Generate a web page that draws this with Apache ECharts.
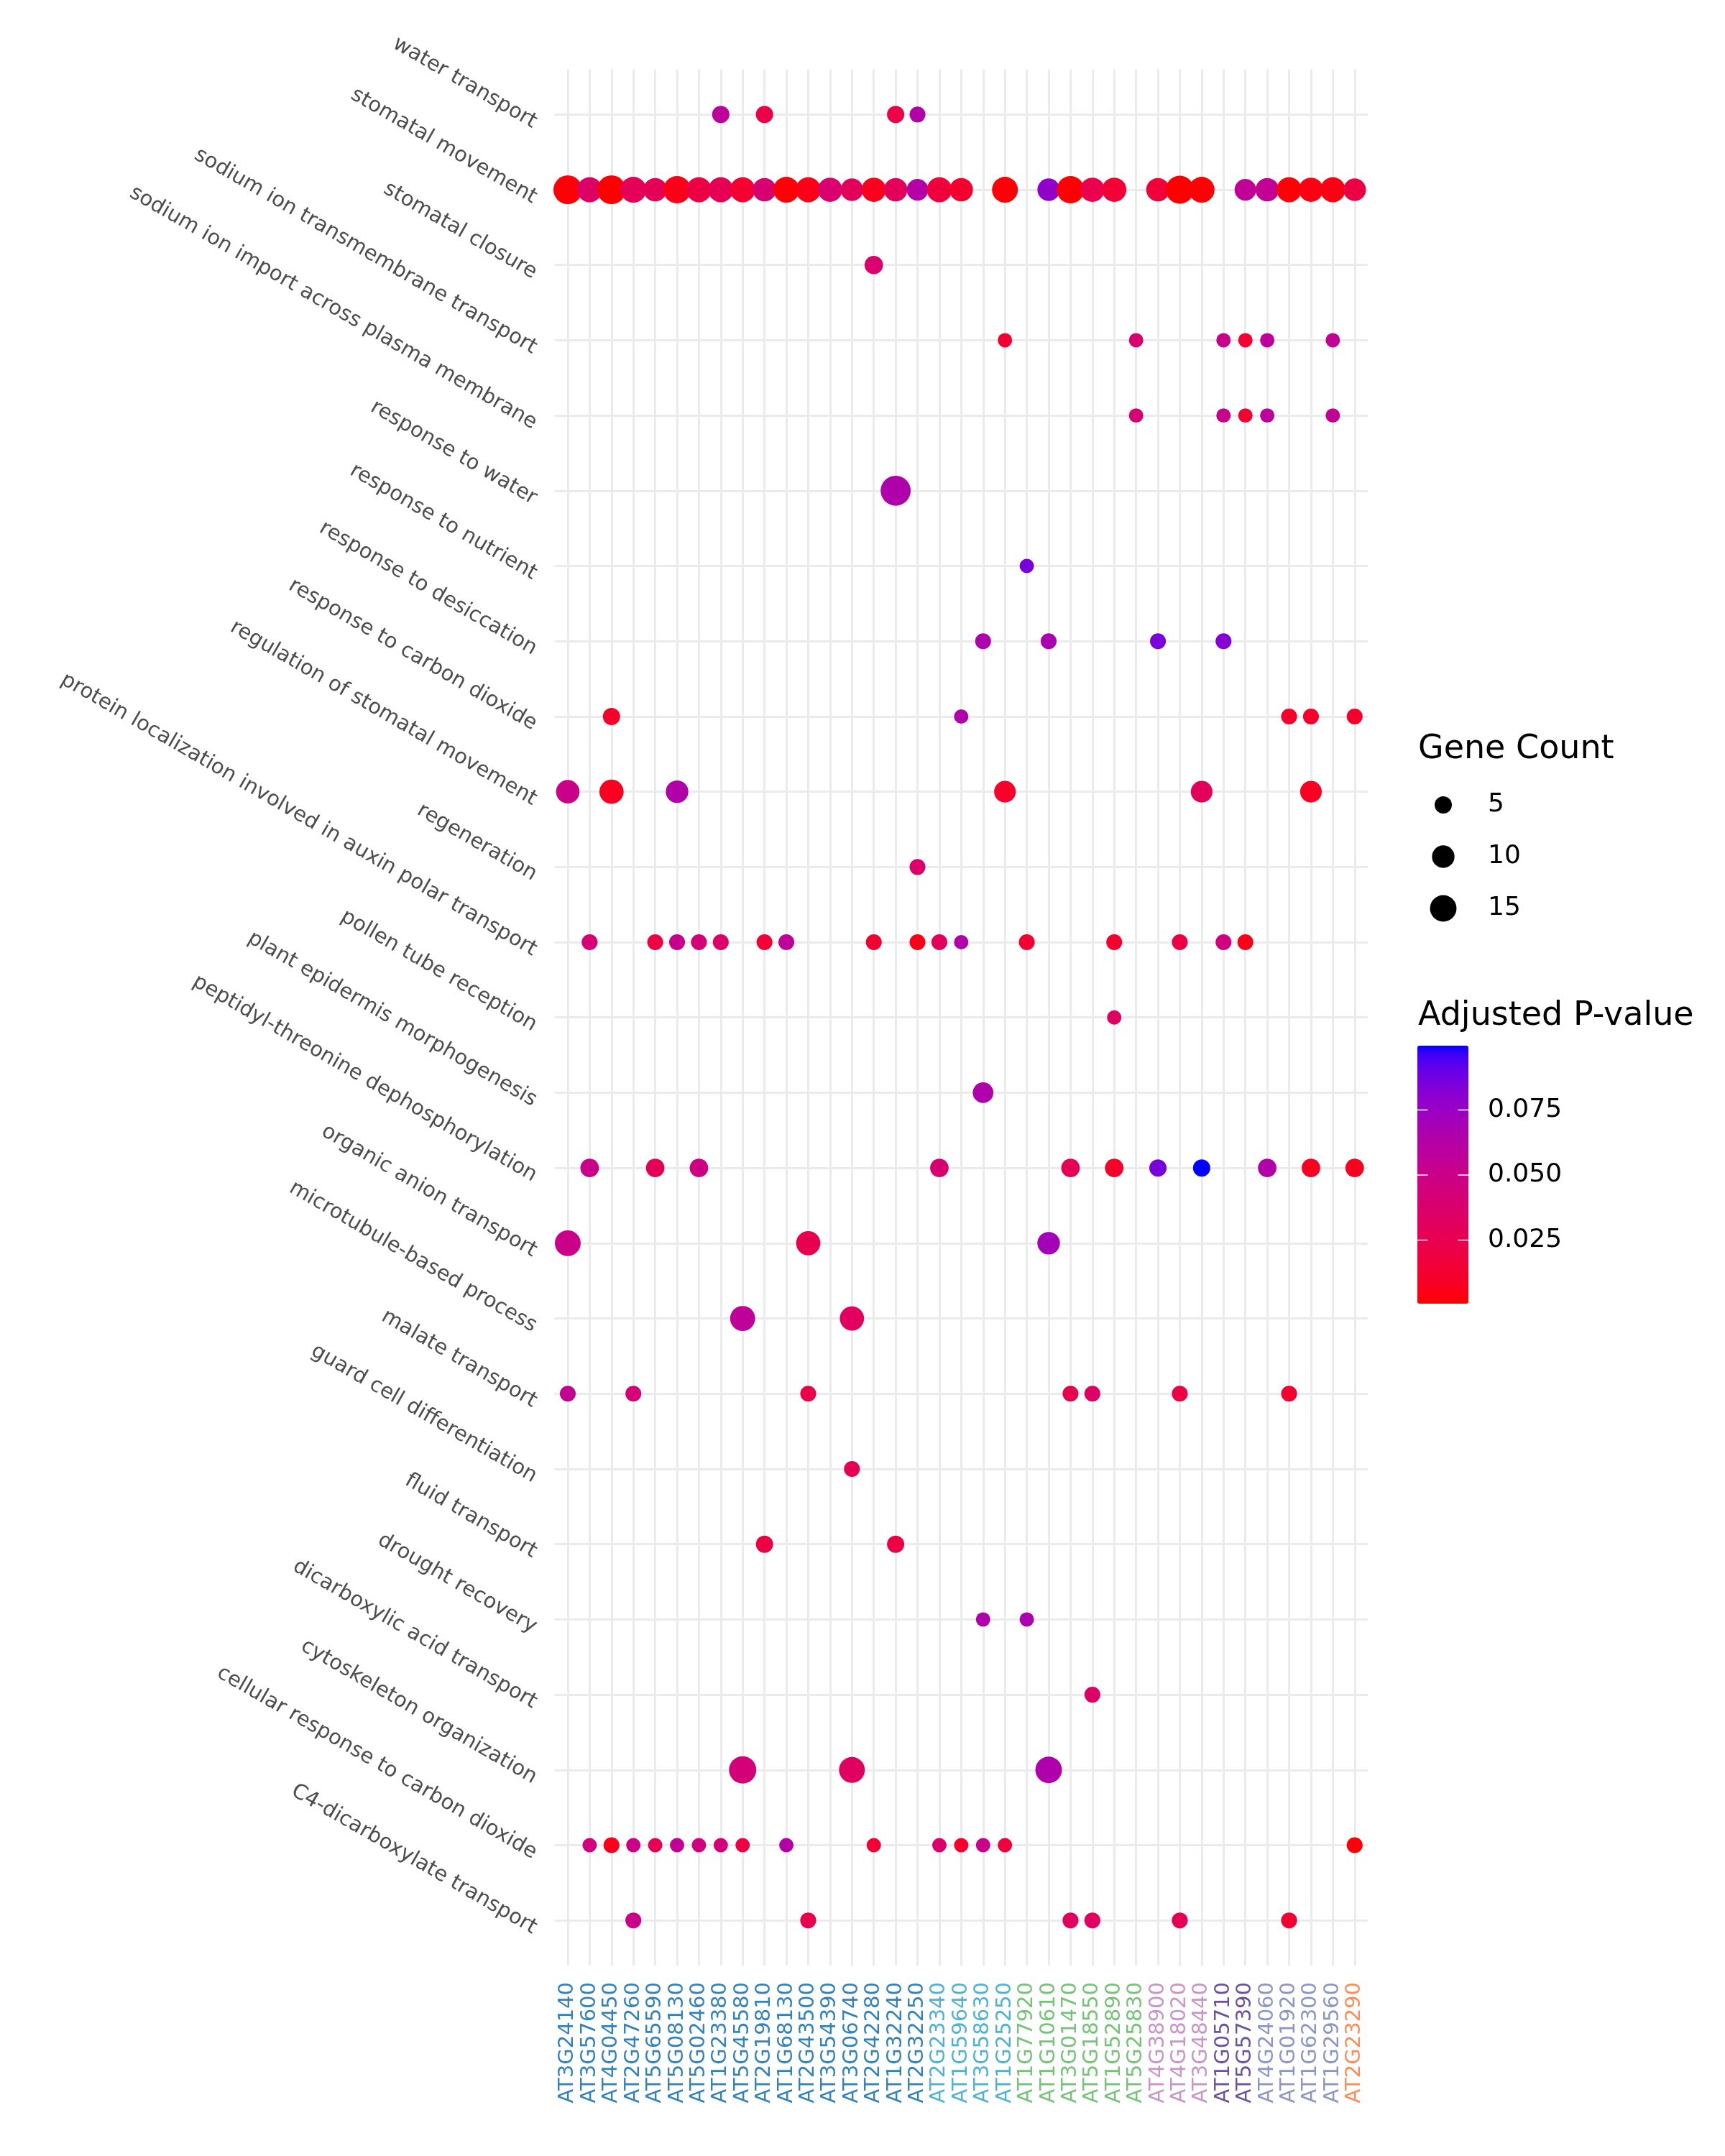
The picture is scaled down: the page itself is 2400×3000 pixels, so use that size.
<!DOCTYPE html>
<html>
<head>
<meta charset="utf-8">
<script src="https://cdn.jsdelivr.net/npm/echarts@6/dist/echarts.min.js"></script>
<style>html,body{margin:0;padding:0;background:#fff}#chart{width:2400px;height:3000px}</style>
</head>
<body>
<div id="chart"></div>
<script>
// ---------------- data ----------------
const genes = ['AT3G24140','AT3G57600','AT4G04450','AT2G47260','AT5G65590','AT5G08130','AT5G02460','AT1G23380','AT5G45580','AT2G19810','AT1G68130','AT2G43500','AT3G54390','AT3G06740','AT2G42280','AT1G32240','AT2G32250','AT2G23340','AT1G59640','AT3G58630','AT1G25250','AT1G77920','AT1G10610','AT3G01470','AT5G18550','AT1G52890','AT5G25830','AT4G38900','AT4G18020','AT3G48440','AT1G05710','AT5G57390','AT4G24060','AT1G01920','AT1G62300','AT1G29560','AT2G23290'];
const geneGroupSizes = [17, 4, 6, 3, 2, 4, 1];
const groupColors = ['#3182BD', '#4EB3D3', '#74C476', '#C994C7', '#6A51A3', '#8C96C6', '#FC8D59'];
const terms = ['water transport','stomatal movement','stomatal closure','sodium ion transmembrane transport','sodium ion import across plasma membrane','response to water','response to nutrient','response to desiccation','response to carbon dioxide','regulation of stomatal movement','regeneration','protein localization involved in auxin polar transport','pollen tube reception','plant epidermis morphogenesis','peptidyl-threonine dephosphorylation','organic anion transport','microtubule-based process','malate transport','guard cell differentiation','fluid transport','drought recovery','dicarboxylic acid transport','cytoskeleton organization','cellular response to carbon dioxide','C4-dicarboxylate transport'];
// [term index, gene index, gene count, adjusted p-value]
const hits = [
 [0,7,5,0.058],[0,9,5,0.022],[0,15,5,0.022],[0,16,4,0.064],
 [1,0,18,0.002],[1,1,13,0.035],[1,2,18,0.0006],[1,3,14,0.029],[1,4,11,0.028],[1,5,16,0.005],[1,6,13,0.020],[1,7,13,0.028],[1,8,13,0.013],[1,9,11,0.040],[1,10,14,0.002],[1,11,13,0.005],[1,12,12,0.038],[1,13,10,0.030],[1,14,12,0.006],[1,15,11,0.029],[1,16,9,0.063],[1,17,13,0.017],[1,18,11,0.012],[1,20,14,0.002],[1,22,10,0.078],[1,23,16,0.0006],[1,24,12,0.024],[1,25,12,0.015],[1,27,11,0.016],[1,28,17,0.0006],[1,29,14,0.002],[1,31,9,0.056],[1,32,11,0.055],[1,33,13,0.002],[1,34,12,0.004],[1,35,13,0.004],[1,36,10,0.020],
 [2,14,6,0.038],
 [3,20,3,0.014],[3,26,3,0.040],[3,30,3,0.052],[3,31,3,0.013],[3,32,3,0.058],[3,35,3,0.056],
 [4,26,3,0.040],[4,30,3,0.052],[4,31,3,0.013],[4,32,3,0.058],[4,35,3,0.056],
 [5,15,20,0.065],
 [6,21,3,0.086],
 [7,19,4,0.066],[7,22,4,0.068],[7,27,4,0.085],[7,30,4,0.082],
 [8,2,5,0.010],[8,18,3,0.066],[8,33,4,0.011],[8,34,4,0.011],[8,36,4,0.012],
 [9,0,11,0.050],[9,2,12,0.008],[9,5,10,0.064],[9,20,9,0.010],[9,29,9,0.030],[9,34,9,0.008],
 [10,16,4,0.037],
 [11,1,4,0.042],[11,4,4,0.020],[11,5,4,0.052],[11,6,4,0.042],[11,7,4,0.037],[11,9,4,0.015],[11,10,4,0.057],[11,14,4,0.014],[11,16,4,0.005],[11,17,4,0.030],[11,18,3,0.064],[11,21,4,0.014],[11,25,4,0.012],[11,28,4,0.020],[11,30,4,0.046],[11,31,4,0.005],
 [12,25,3,0.033],
 [13,19,8,0.065],
 [14,1,6,0.050],[14,4,6,0.028],[14,6,6,0.048],[14,17,6,0.040],[14,23,6,0.028],[14,25,6,0.010],[14,27,5,0.086],[14,29,5,0.0997],[14,32,6,0.064],[14,34,6,0.008],[14,36,6,0.007],
 [15,0,14,0.050],[15,11,12,0.025],[15,22,10,0.071],
 [16,8,13,0.057],[16,13,12,0.032],
 [17,0,4,0.055],[17,3,4,0.042],[17,11,4,0.023],[17,23,4,0.025],[17,24,4,0.035],[17,28,4,0.020],[17,33,4,0.012],
 [18,13,4,0.027],
 [19,9,5,0.020],[19,15,5,0.020],
 [20,19,3,0.065],[20,21,3,0.067],
 [21,24,4,0.035],
 [22,8,16,0.043],[22,13,14,0.033],[22,22,15,0.065],
 [23,1,3,0.046],[23,2,4,0.006],[23,3,3,0.049],[23,4,3,0.028],[23,5,3,0.056],[23,6,3,0.046],[23,7,3,0.043],[23,8,3,0.020],[23,10,3,0.064],[23,14,3,0.015],[23,17,3,0.038],[23,18,3,0.012],[23,19,3,0.051],[23,20,3,0.017],[23,36,4,0.002],
 [24,3,4,0.050],[24,11,4,0.025],[24,23,4,0.031],[24,24,4,0.033],[24,28,4,0.028],[24,33,4,0.014]
];
const sizeBreaks = [5, 10, 15];
const pBreaks = [0.075, 0.050, 0.025];
const pBreakLabels = ['0.075', '0.050', '0.025'];

// ---------------- helpers ----------------
const geneGroup = [];
geneGroupSizes.forEach((n, g) => { for (let i = 0; i < n; i++) geneGroup.push(g); });
function dotSize(n) { return 6.2 + 7.95 * Math.sqrt(n); }

function toLin(c) { c /= 255; return c <= 0.04045 ? c / 12.92 : Math.pow((c + 0.055) / 1.055, 2.4); }
function toSrgb(c) { c = c <= 0.0031308 ? 12.92 * c : 1.055 * Math.pow(c, 1 / 2.4) - 0.055; return Math.round(Math.max(0, Math.min(1, c)) * 255); }
function rgbToLab(rgb) {
  const R = toLin(rgb[0]), G = toLin(rgb[1]), B = toLin(rgb[2]);
  const X = (0.4124 * R + 0.3576 * G + 0.1805 * B) / 0.95047;
  const Y = (0.2126 * R + 0.7152 * G + 0.0722 * B);
  const Z = (0.0193 * R + 0.1192 * G + 0.9505 * B) / 1.08883;
  const f = t => t > 216 / 24389 ? Math.cbrt(t) : (24389 / 27 * t + 16) / 116;
  const fx = f(X), fy = f(Y), fz = f(Z);
  return [116 * fy - 16, 500 * (fx - fy), 200 * (fy - fz)];
}
function labToRgb(lab) {
  const fy = (lab[0] + 16) / 116, fx = fy + lab[1] / 500, fz = fy - lab[2] / 200;
  const inv = t => t * t * t > 216 / 24389 ? t * t * t : (116 * t - 16) / (24389 / 27);
  const X = inv(fx) * 0.95047, Y = inv(fy), Z = inv(fz) * 1.08883;
  const R = 3.2406 * X - 1.5372 * Y - 0.4986 * Z;
  const G = -0.9689 * X + 1.8758 * Y + 0.0415 * Z;
  const B = 0.0557 * X - 0.2040 * Y + 1.0570 * Z;
  return 'rgb(' + toSrgb(R) + ',' + toSrgb(G) + ',' + toSrgb(B) + ')';
}
const labLow = rgbToLab([255, 0, 0]), labHigh = rgbToLab([0, 0, 255]);
const ramp = [];
for (let i = 0; i <= 40; i++) {
  const t = i / 40;
  ramp.push(labToRgb([0, 1, 2].map(k => labLow[k] + (labHigh[k] - labLow[k]) * t)));
}

const pVals = hits.map(h => h[3]);
const pMin = Math.min.apply(null, pVals), pMax = Math.max.apply(null, pVals);

const geneIdx = genes.map((_, i) => i);
const termIdx = terms.map((_, i) => i);
const FONT = 'DejaVu Sans';

// legend geometry
const barLeft = 1972, barTop = 1455, barW = 71, barH = 359;
const pToY = v => barTop + (pMax - v) / (pMax - pMin) * barH;

const graphics = [];
graphics.push({ type: 'text', x: 1973, y: 1043, style: { text: 'Gene Count', font: '46px "DejaVu Sans"', fill: '#000', verticalAlign: 'middle', align: 'left' } });
sizeBreaks.forEach((v, i) => {
  const cy = 1120 + i * 72;
  graphics.push({ type: 'circle', shape: { cx: 2008, cy: cy, r: dotSize(v) / 2 }, style: { fill: '#000' } });
  graphics.push({ type: 'text', x: 2070, y: cy, style: { text: String(v), font: '36px "DejaVu Sans"', fill: '#000', verticalAlign: 'middle', align: 'left' } });
});
graphics.push({ type: 'text', x: 1973, y: 1414, style: { text: 'Adjusted P-value', font: '46px "DejaVu Sans"', fill: '#000', verticalAlign: 'middle', align: 'left' } });
pBreaks.forEach((v, i) => {
  const y = pToY(v);
  graphics.push({ type: 'text', x: 2070, y: y, style: { text: pBreakLabels[i], font: '36px "DejaVu Sans"', fill: '#000', verticalAlign: 'middle', align: 'left' } });
  graphics.push({ type: 'line', z: 100, shape: { x1: barLeft, y1: y, x2: barLeft + 14.5, y2: y }, style: { stroke: '#fff', lineWidth: 1.5 } });
  graphics.push({ type: 'line', z: 100, shape: { x1: barLeft + barW - 14.5, y1: y, x2: barLeft + barW, y2: y }, style: { stroke: '#fff', lineWidth: 1.5 } });
});

const chart = echarts.init(document.getElementById('chart'), null, { renderer: 'canvas' });
chart.setOption({
  animation: false,
  backgroundColor: '#ffffff',
  grid: { left: 771.7, top: 96.5, right: 497, bottom: 265, containLabel: false },
  xAxis: {
    type: 'value', min: -0.6, max: 36.6,
    axisLine: { show: false },
    axisTick: { show: false, customValues: geneIdx },
    axisLabel: {
      customValues: geneIdx, rotate: 90, margin: 23, fontSize: 29, fontFamily: FONT,
      formatter: v => genes[Math.round(Number(v))],
      color: v => groupColors[geneGroup[Math.round(Number(v))]]
    },
    splitLine: { show: true, lineStyle: { color: '#EBEBEB', width: 3 } }
  },
  yAxis: {
    type: 'value', min: -0.6, max: 24.6, inverse: true,
    axisLine: { show: false },
    axisTick: { show: false, customValues: termIdx },
    axisLabel: {
      customValues: termIdx, rotate: -30, margin: 20, fontSize: 29, fontFamily: FONT, color: '#4D4D4D',
      verticalAlign: 'top',
      formatter: v => terms[Math.round(Number(v))]
    },
    splitLine: { show: true, lineStyle: { color: '#EBEBEB', width: 3 } }
  },
  visualMap: [{
    type: 'continuous', seriesIndex: 0, dimension: 3, min: pMin, max: pMax,
    inRange: { color: ramp }, calculable: false, orient: 'vertical',
    left: barLeft, top: barTop, itemWidth: barW, itemHeight: barH, padding: 0,
    hoverLink: false, showLabel: false
  }],
  graphic: graphics,
  series: [{
    type: 'scatter',
    data: hits.map(h => [h[1], h[0], h[2], h[3]]),
    symbol: 'circle',
    symbolSize: d => dotSize(d[2]),
    itemStyle: { opacity: 1 },
    emphasis: { disabled: true },
    z: 3
  }]
});
</script>
</body>
</html>
